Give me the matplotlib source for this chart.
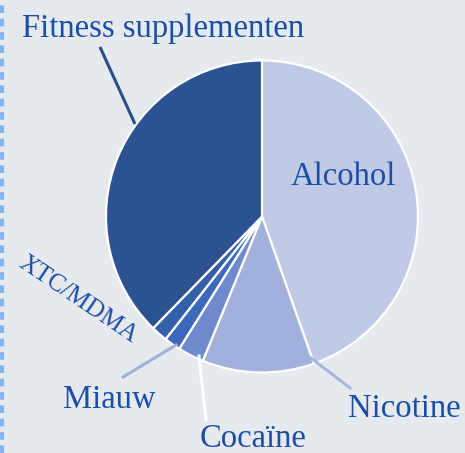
import numpy as np
import matplotlib
matplotlib.use("Agg")
import matplotlib.pyplot as plt

# Share of each substance (percent)
labels = ["Alcohol", "Nicotine", "Cocaïne", "Miauw", "XTC/MDMA", "Fitness supplementen"]
shares = [44.6, 11.6, 2.7, 1.7, 1.7, 37.7]
colors = ["#c0c9e6", "#a2b0dc", "#6f89cf", "#3d69bd", "#3360a8", "#2d5291"]

BG = "#e6e9ee"
TXT = "#1a4fa6"
W, H = 465, 453

fig = plt.figure(figsize=(W / 100, H / 100), dpi=100, facecolor=BG)
ax = fig.add_axes([0, 0, 1, 1])
ax.set_facecolor(BG)

cx, cy, r = 262, H - 216.5, 156
wedges, _ = ax.pie(shares, colors=colors, startangle=90, counterclock=False,
                   center=(cx, cy), radius=r,
                   wedgeprops=dict(edgecolor="white", linewidth=1.6))

ax.set_xlim(0, W)
ax.set_ylim(0, H)
ax.set_aspect("equal")
ax.axis("off")

def Y(y):
    return H - y

font = dict(family="Liberation Serif", color=TXT)
FS = 23.5

# Labels with leader lines
ax.plot([100, 135], [Y(47), Y(124)], color="#2c4f8a", lw=2.2, solid_capstyle="butt")
ax.text(163, Y(29), labels[5], ha="center", va="center", fontsize=FS, **font)

ax.text(343, Y(177), labels[0], ha="center", va="center", fontsize=FS, **font)

ax.plot([311, 350], [Y(358), Y(388)], color="#a9b6de", lw=2.2)
ax.text(404, Y(409), labels[1], ha="center", va="center", fontsize=FS, **font)

ax.plot([199, 206], [Y(356), Y(420)], color="white", lw=2.2)
ax.text(253, Y(439), labels[2], ha="center", va="center", fontsize=FS, **font)

ax.plot([123, 176], [Y(377), Y(345)], color="#a3b0da", lw=2.2)
ax.text(109, Y(400), labels[3], ha="center", va="center", fontsize=FS, **font)

ax.text(78, Y(300), labels[4], ha="center", va="center", fontsize=18,
        rotation=-34, rotation_mode="anchor", **font)

# Dashed left border
ax.plot([2, 2], [0, H], color="#84b4ee", lw=3, dashes=(1.8, 1.4))

fig.savefig("out.png", dpi=100, facecolor=BG)
